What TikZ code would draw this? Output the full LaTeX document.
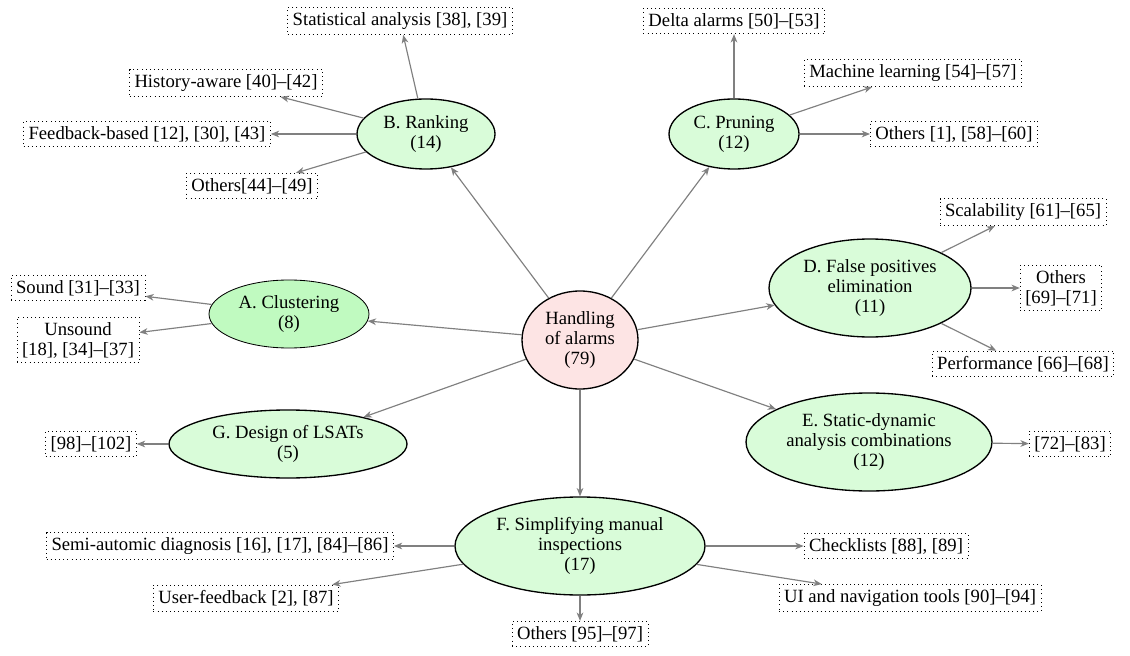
\documentclass[tikz,border=0pt]{standalone}
\usepackage{fontspec}
\setmainfont{Liberation Serif}
\usetikzlibrary{shapes.geometric,arrows.meta}
\definecolor{lgreen}{RGB}{217,252,217}
\definecolor{mgreen}{RGB}{192,250,192}
\definecolor{lpink}{RGB}{253,228,228}
\begin{document}
\begin{tikzpicture}[x=0.6pt,y=-0.6pt,
  font=\fontsize{11.2}{12}\selectfont,
  topic/.style={ellipse,draw=black,line width=0.8pt,fill=lgreen,inner sep=0pt,align=center},
  root/.style={ellipse,draw=black,line width=0.8pt,fill=lpink,inner sep=0pt,align=center},
  leaf/.style={draw=black,dotted,line width=0.5pt,align=center,inner sep=3pt},
  conn/.style={draw=gray,line width=0.7pt,-{Stealth[length=5pt,width=4pt,inset=1.5pt]}}]
\useasboundingbox (0,0) rectangle (1130,656);
% center
\node[root,minimum width=69.6pt,minimum height=58.8pt] (H) at (580,340) {Handling\\of alarms\\(79)};
% topics
\node[topic,fill=mgreen,line width=0.5pt,minimum width=96pt,minimum height=40.8pt] (A) at (289,314) {A. Clustering\\(8)};
\node[topic,minimum width=82.8pt,minimum height=42pt] (B) at (426,134) {B. Ranking\\(14)};
\node[topic,minimum width=78pt,minimum height=42pt] (C) at (734,134) {C. Pruning\\(12)};
\node[topic,minimum width=121.2pt,minimum height=58.8pt] (D) at (870,288) {D. False positives\\elimination\\(11)};
\node[topic,minimum width=147.6pt,minimum height=58.8pt] (E) at (869,442) {E. Static-dynamic\\analysis combinations\\(12)};
\node[topic,minimum width=150pt,minimum height=58.8pt] (F) at (580,546) {F. Simplifying manual\\inspections\\(17)};
\node[topic,minimum width=142.8pt,minimum height=40.8pt] (G) at (288,444) {G. Design of LSATs\\(5)};
% leaves
\node[leaf] (b1) at (400,21) {Statistical analysis [38], [39]};
\node[leaf] (b2) at (226,83) {History-aware [40]–[42]};
\node[leaf] (b3) at (147,134) {Feedback-based [12], [30], [43]};
\node[leaf] (b4) at (252,186) {Others[44]–[49]};
\node[leaf] (c1) at (734,21) {Delta alarms [50]–[53]};
\node[leaf] (c2) at (913,73) {Machine learning [54]–[57]};
\node[leaf] (c3) at (954,134) {Others [1], [58]–[60]};
\node[leaf] (a1) at (78,288) {Sound [31]–[33]};
\node[leaf] (a2) at (78,340) {Unsound\\{}[18], [34]–[37]};
\node[leaf] (g1) at (91,444) {[98]–[102]};
\node[leaf] (d1) at (1023,212) {Scalability [61]–[65]};
\node[leaf] (d2) at (1061,288) {Others\\{}[69]–[71]};
\node[leaf] (d3) at (1023,364) {Performance [66]–[68]};
\node[leaf] (e1) at (1070,444) {[72]–[83]};
\node[leaf] (f1) at (220,546) {Semi-automic diagnosis [16], [17], [84]–[86]};
\node[leaf] (f2) at (246,598) {User-feedback [2], [87]};
\node[leaf] (f3) at (580,634) {Others [95]–[97]};
\node[leaf] (f4) at (886,546) {Checklists [88], [89]};
\node[leaf] (f5) at (910,598) {UI and navigation tools [90]–[94]};
% connectors
\foreach \t in {A,B,C,D,E,F,G} \draw[conn] (H) -- (\t);
\foreach \t in {b1,b2,b3,b4} \draw[conn] (B) -- (\t);
\foreach \t in {c1,c2,c3} \draw[conn] (C) -- (\t);
\foreach \t in {a1,a2} \draw[conn] (A) -- (\t);
\foreach \t in {d1,d2,d3} \draw[conn] (D) -- (\t);
\draw[conn] (E) -- (e1);
\draw[conn] (G) -- (g1);
\foreach \t in {f1,f2,f3,f4,f5} \draw[conn] (F) -- (\t);
\end{tikzpicture}
\end{document}
